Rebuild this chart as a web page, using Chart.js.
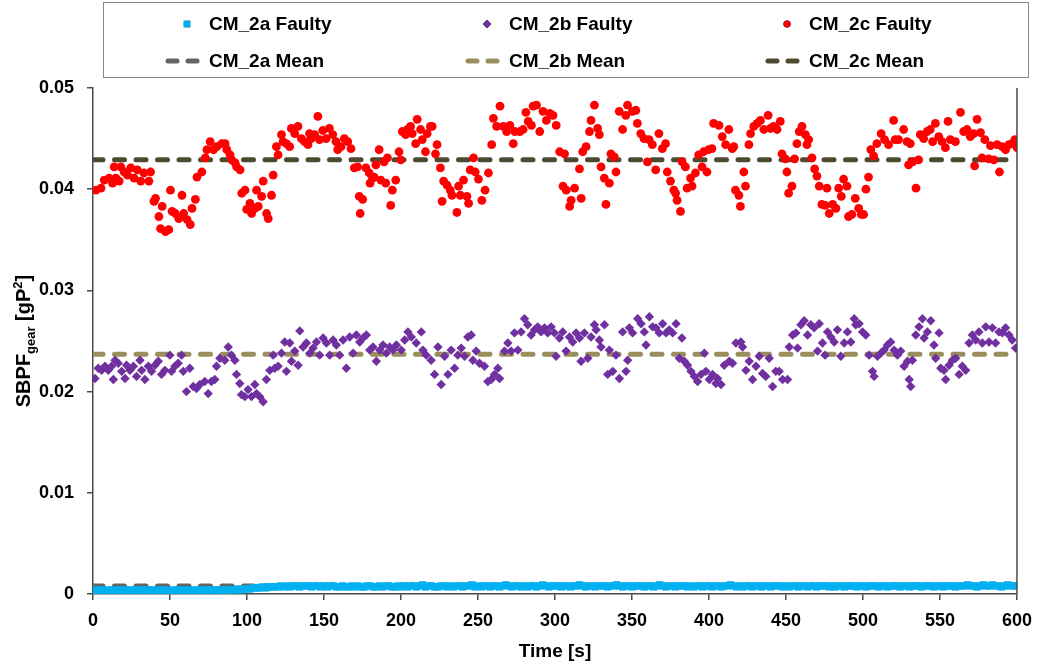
<!DOCTYPE html>
<html>
<head>
<meta charset="utf-8">
<script src="https://cdn.jsdelivr.net/npm/chart.js"></script>
<style>
  html, body { margin: 0; padding: 0; background: #fff; }
  #wrap { width: 1042px; height: 666px; }
</style>
</head>
<body>
<div id="wrap"><canvas id="sbpfChart" width="1042" height="666"></canvas></div>
<script>
// CM_2c faulty: time [s] and SBPF_gear [gP^2]
const cm2cTime = [1.9,5.2,7.3,10.5,12.7,13.8,14.8,17.0,18.1,20.2,22.4,24.5,26.7,28.8,31.0,33.1,36.3,37.4,39.6,40.6,
  42.8,43.9,44.9,47.1,49.2,50.3,51.4,53.5,55.7,57.8,58.9,61.1,63.2,64.3,66.5,67.5,70.7,72.9,74.0,76.1,
  78.3,80.4,83.7,85.8,86.9,89.0,90.1,92.3,93.3,95.5,96.6,98.7,99.8,101.9,103.0,105.2,106.2,107.3,109.5,110.5,
  112.7,113.8,115.9,117.0,119.1,120.2,122.4,123.4,125.6,127.7,128.8,131.0,133.1,135.3,137.4,139.6,140.6,141.7,143.9,146.0,
  147.1,149.2,151.4,153.5,155.7,157.8,158.9,161.1,163.2,165.4,167.5,169.7,171.8,172.9,173.5,175.1,177.2,179.4,179.9,181.5,
  182.6,183.7,185.8,186.9,189.0,190.1,191.2,193.3,194.4,196.6,198.7,199.8,200.9,203.0,204.1,206.2,207.3,209.5,210.5,212.7,
  213.8,215.9,217.0,219.1,220.2,222.4,223.4,225.6,226.7,227.7,229.9,232.0,233.1,236.3,237.4,238.5,240.6,242.8,243.9,244.9,
  247.1,248.2,250.3,252.5,254.6,256.8,258.9,260.0,262.1,264.3,266.4,268.6,270.7,272.9,273.9,277.2,279.3,281.1,282.6,284.7,
  285.8,288.0,290.1,292.2,294.4,296.6,298.7,300.8,303.0,305.2,306.2,307.3,309.5,310.5,312.7,315.9,317.0,318.0,320.2,322.4,
  323.4,325.6,327.7,328.8,329.9,332.0,333.1,335.3,336.3,338.5,339.6,341.7,343.9,346.0,347.1,350.3,352.5,353.5,355.7,357.8,
  360.0,361.1,363.2,365.4,367.5,369.7,371.8,372.9,375.0,377.2,378.3,379.3,381.5,382.6,384.7,385.8,388.0,389.0,391.2,393.3,
  395.5,396.5,398.7,399.8,401.9,403.0,406.5,408.6,410.8,412.9,415.1,416.1,417.2,419.4,420.4,422.6,423.7,425.9,427.0,429.1,
  431.3,433.4,435.6,438.4,439.9,442.0,444.2,446.3,447.4,449.6,450.6,451.7,453.9,455.6,457.1,458.6,460.4,462.6,463.6,464.7,
  466.9,468.6,470.1,471.6,473.3,475.5,476.6,478.1,480.3,482.4,484.2,485.9,487.4,489.6,490.6,492.8,495.0,497.2,498.9,500.4,
  501.9,503.6,505.1,506.9,509.0,511.8,514.0,516.6,519.9,520.9,523.1,526.4,528.6,529.6,530.7,532.2,534.4,536.1,537.2,539.4,
  541.6,543.7,545.2,547.0,549.2,551.3,553.5,555.2,556.7,560.0,563.3,565.4,567.6,569.7,571.9,572.5,574.1,576.3,577.3,579.1,
  581.6,582.8,585.0,587.1,588.6,590.4,592.6,594.8,596.9,598.6,600.1];
const cm2cVal = [0.0399,0.0401,0.0409,0.0411,0.0406,0.0422,0.0411,0.0408,0.0422,0.0417,0.0414,0.0421,0.0411,0.0419,0.0408,0.0416,0.0408,0.0417,0.0388,0.0391,
  0.0373,0.0361,0.0383,0.0358,0.0360,0.0399,0.0378,0.0376,0.0371,0.0394,0.0376,0.0370,0.0365,0.0381,0.0390,0.0412,0.0417,0.0431,0.0439,0.0447,
  0.0439,0.0442,0.0445,0.0445,0.0439,0.0434,0.0429,0.0426,0.0422,0.0419,0.0396,0.0399,0.0380,0.0386,0.0376,0.0381,0.0399,0.0383,0.0393,0.0408,
  0.0376,0.0371,0.0394,0.0414,0.0442,0.0434,0.0454,0.0447,0.0445,0.0442,0.0460,0.0455,0.0462,0.0450,0.0447,0.0444,0.0455,0.0450,0.0454,0.0472,
  0.0449,0.0458,0.0450,0.0460,0.0454,0.0447,0.0439,0.0442,0.0450,0.0447,0.0440,0.0421,0.0422,0.0393,0.0376,0.0390,0.0421,0.0416,0.0406,0.0411,
  0.0412,0.0424,0.0439,0.0409,0.0427,0.0406,0.0431,0.0384,0.0399,0.0409,0.0437,0.0429,0.0457,0.0454,0.0459,0.0462,0.0455,0.0445,0.0469,0.0459,
  0.0449,0.0437,0.0455,0.0462,0.0462,0.0435,0.0444,0.0421,0.0388,0.0408,0.0404,0.0399,0.0394,0.0377,0.0403,0.0394,0.0409,0.0393,0.0386,0.0419,
  0.0431,0.0417,0.0410,0.0389,0.0399,0.0416,0.0444,0.0470,0.0462,0.0482,0.0462,0.0457,0.0463,0.0445,0.0457,0.0457,0.0459,0.0476,0.0467,0.0463,
  0.0482,0.0483,0.0457,0.0477,0.0468,0.0475,0.0473,0.0463,0.0437,0.0403,0.0435,0.0399,0.0383,0.0389,0.0401,0.0420,0.0391,0.0437,0.0442,0.0457,
  0.0468,0.0483,0.0460,0.0454,0.0422,0.0411,0.0385,0.0406,0.0435,0.0432,0.0417,0.0477,0.0459,0.0473,0.0483,0.0477,0.0478,0.0465,0.0455,0.0450,
  0.0427,0.0449,0.0444,0.0419,0.0455,0.0440,0.0445,0.0417,0.0408,0.0399,0.0396,0.0389,0.0378,0.0427,0.0422,0.0401,0.0411,0.0403,0.0416,0.0434,
  0.0422,0.0437,0.0417,0.0439,0.0440,0.0465,0.0463,0.0452,0.0444,0.0459,0.0440,0.0442,0.0399,0.0394,0.0383,0.0417,0.0403,0.0444,0.0455,0.0462,
  0.0465,0.0468,0.0459,0.0473,0.0460,0.0462,0.0459,0.0467,0.0435,0.0430,0.0417,0.0396,0.0403,0.0430,0.0445,0.0457,0.0462,0.0454,0.0444,0.0449,
  0.0431,0.0420,0.0413,0.0403,0.0385,0.0384,0.0401,0.0376,0.0385,0.0381,0.0401,0.0393,0.0410,0.0403,0.0373,0.0375,0.0391,0.0381,0.0375,0.0375,
  0.0400,0.0412,0.0439,0.0433,0.0445,0.0455,0.0449,0.0444,0.0468,0.0449,0.0449,0.0459,0.0447,0.0424,0.0445,0.0427,0.0401,0.0429,0.0454,0.0450,
  0.0457,0.0459,0.0447,0.0465,0.0452,0.0447,0.0441,0.0467,0.0449,0.0447,0.0476,0.0457,0.0459,0.0452,0.0455,0.0423,0.0469,0.0456,0.0431,0.0449,
  0.0430,0.0443,0.0429,0.0444,0.0417,0.0442,0.0439,0.0444,0.0445,0.0449,0.0441];

// CM_2b faulty
const cm2bTime = [1.3,3.4,5.6,7.8,9.9,12.1,13.2,14.3,16.4,18.6,20.8,21.8,24.0,26.2,28.3,30.5,31.6,33.7,35.9,38.0,
  40.2,42.4,44.5,46.7,49.9,51.0,53.2,55.3,57.5,58.6,60.7,62.9,65.1,67.2,69.4,72.6,74.8,76.9,79.1,80.2,
  82.4,85.6,87.8,89.9,92.1,93.2,95.3,96.4,98.6,100.7,102.9,105.1,106.2,108.3,110.5,112.6,114.8,117.0,118.0,120.2,
  122.4,124.5,125.6,127.8,128.9,131.0,133.2,134.3,136.4,138.6,140.8,142.9,145.1,147.2,149.4,151.6,153.7,155.9,158.0,160.2,
  162.4,164.5,166.7,168.9,171.0,173.2,175.3,177.5,179.7,181.8,184.0,186.2,188.3,190.5,192.6,194.8,197.0,200.2,202.4,204.5,
  206.7,209.9,213.2,214.2,216.4,219.6,221.8,224.0,226.1,228.3,230.5,232.6,234.8,236.9,239.1,241.3,243.4,245.6,246.7,248.8,
  251.0,254.2,256.4,258.6,260.7,262.9,264.0,267.2,269.4,271.5,273.7,275.9,278.0,280.2,282.3,284.5,286.7,288.8,291.0,293.2,
  295.3,297.5,299.6,300.7,302.9,305.0,307.2,309.4,311.5,313.7,315.9,316.9,319.1,321.3,323.4,325.6,326.7,328.8,329.9,332.1,
  334.2,335.3,337.5,339.6,341.8,343.9,346.1,347.2,348.3,350.4,353.7,355.9,358.0,359.1,361.3,363.4,365.6,367.7,369.9,372.1,
  374.2,376.4,378.6,380.7,382.4,384.0,386.1,388.3,390.5,392.6,394.8,397.0,398.0,400.2,402.3,404.5,405.6,407.8,409.9,413.2,
  415.3,417.5,420.7,421.8,424.0,426.1,428.3,430.5,432.6,434.8,436.9,439.1,441.3,443.4,445.6,447.8,451.0,452.1,454.3,456.4,
  457.5,459.7,461.8,464.0,466.1,468.3,470.5,471.6,473.7,475.4,477.0,479.1,481.3,483.4,485.6,487.8,489.9,492.1,494.3,495.3,
  497.5,499.7,501.8,504.0,506.2,507.2,509.4,511.6,513.7,515.9,518.0,520.2,522.4,524.5,526.7,528.9,530.0,531.0,532.1,534.3,
  536.4,538.6,539.7,541.8,544.0,546.1,547.2,549.4,550.5,552.6,553.7,555.9,558.0,560.2,562.4,564.5,566.7,568.9,571.0,573.2,
  575.3,577.5,579.7,581.8,584.0,586.1,588.3,590.5,592.6,594.8,596.9,599.1];
const cm2bVal = [0.0213,0.0223,0.0221,0.0225,0.0221,0.0225,0.0212,0.0231,0.0228,0.0220,0.0213,0.0226,0.0221,0.0225,0.0215,0.0231,0.0221,0.0212,0.0225,0.0220,
  0.0226,0.0230,0.0217,0.0221,0.0236,0.0220,0.0225,0.0228,0.0236,0.0220,0.0200,0.0223,0.0205,0.0203,0.0207,0.0210,0.0198,0.0210,0.0212,0.0225,
  0.0233,0.0231,0.0244,0.0236,0.0231,0.0217,0.0208,0.0197,0.0195,0.0202,0.0195,0.0207,0.0198,0.0195,0.0190,0.0212,0.0221,0.0236,0.0223,0.0225,
  0.0238,0.0249,0.0220,0.0248,0.0230,0.0240,0.0226,0.0260,0.0244,0.0248,0.0238,0.0243,0.0249,0.0236,0.0253,0.0248,0.0236,0.0251,0.0246,0.0236,
  0.0251,0.0223,0.0254,0.0238,0.0256,0.0249,0.0253,0.0256,0.0241,0.0244,0.0230,0.0241,0.0246,0.0238,0.0244,0.0241,0.0246,0.0241,0.0251,0.0259,
  0.0254,0.0248,0.0259,0.0241,0.0236,0.0231,0.0217,0.0244,0.0207,0.0235,0.0217,0.0241,0.0223,0.0236,0.0243,0.0235,0.0254,0.0256,0.0231,0.0240,
  0.0228,0.0225,0.0210,0.0212,0.0217,0.0223,0.0213,0.0240,0.0248,0.0240,0.0258,0.0241,0.0259,0.0272,0.0266,0.0256,0.0261,0.0264,0.0259,0.0263,
  0.0258,0.0264,0.0258,0.0235,0.0253,0.0259,0.0240,0.0254,0.0249,0.0258,0.0253,0.0230,0.0258,0.0233,0.0254,0.0266,0.0261,0.0251,0.0244,0.0266,
  0.0217,0.0241,0.0220,0.0236,0.0213,0.0259,0.0220,0.0231,0.0263,0.0258,0.0272,0.0267,0.0259,0.0246,0.0274,0.0264,0.0263,0.0258,0.0267,0.0258,
  0.0261,0.0258,0.0267,0.0233,0.0253,0.0230,0.0226,0.0220,0.0215,0.0210,0.0217,0.0238,0.0220,0.0212,0.0217,0.0208,0.0213,0.0207,0.0226,0.0230,
  0.0228,0.0248,0.0249,0.0244,0.0221,0.0230,0.0212,0.0225,0.0235,0.0218,0.0215,0.0233,0.0205,0.0220,0.0220,0.0212,0.0212,0.0244,0.0256,0.0258,
  0.0243,0.0266,0.0270,0.0256,0.0266,0.0263,0.0240,0.0267,0.0248,0.0236,0.0259,0.0254,0.0249,0.0261,0.0235,0.0248,0.0259,0.0249,0.0272,0.0266,
  0.0267,0.0259,0.0256,0.0236,0.0220,0.0215,0.0235,0.0238,0.0241,0.0246,0.0249,0.0241,0.0236,0.0240,0.0225,0.0230,0.0212,0.0205,0.0231,0.0256,
  0.0264,0.0272,0.0253,0.0259,0.0270,0.0246,0.0233,0.0258,0.0223,0.0221,0.0212,0.0226,0.0231,0.0233,0.0217,0.0225,0.0221,0.0248,0.0256,0.0251,
  0.0259,0.0248,0.0264,0.0249,0.0263,0.0248,0.0259,0.0258,0.0263,0.0256,0.0251,0.0243];

// CM_2a faulty, one sample every 2 s from 0 to 600 s
const cm2aStep = 2;
const cm2aVal = [0.0004,0.0003,0.0004,0.0004,0.0003,0.0004,0.0004,0.0003,0.0004,0.0004,
  0.0003,0.0004,0.0004,0.0003,0.0004,0.0004,0.0004,0.0003,0.0004,0.0004,
  0.0004,0.0003,0.0004,0.0004,0.0003,0.0003,0.0004,0.0004,0.0004,0.0003,
  0.0004,0.0004,0.0003,0.0004,0.0004,0.0004,0.0003,0.0004,0.0004,0.0004,
  0.0004,0.0004,0.0003,0.0004,0.0004,0.0004,0.0004,0.0005,0.0004,0.0005,
  0.0005,0.0005,0.0006,0.0006,0.0006,0.0007,0.0006,0.0007,0.0007,0.0007,
  0.0007,0.0008,0.0007,0.0008,0.0007,0.0008,0.0008,0.0007,0.0008,0.0008,
  0.0008,0.0007,0.0008,0.0008,0.0007,0.0008,0.0007,0.0008,0.0008,0.0007,
  0.0007,0.0008,0.0007,0.0007,0.0008,0.0007,0.0008,0.0007,0.0007,0.0008,
  0.0008,0.0007,0.0007,0.0008,0.0007,0.0008,0.0008,0.0007,0.0007,0.0008,
  0.0007,0.0008,0.0007,0.0008,0.0008,0.0007,0.0008,0.0009,0.0007,0.0008,
  0.0008,0.0007,0.0007,0.0008,0.0008,0.0007,0.0008,0.0007,0.0008,0.0008,
  0.0007,0.0008,0.0008,0.0009,0.0007,0.0008,0.0007,0.0008,0.0008,0.0007,
  0.0008,0.0008,0.0007,0.0008,0.0009,0.0008,0.0007,0.0008,0.0008,0.0007,
  0.0008,0.0007,0.0008,0.0008,0.0007,0.0008,0.0009,0.0008,0.0007,0.0008,
  0.0008,0.0008,0.0007,0.0008,0.0008,0.0007,0.0008,0.0008,0.0009,0.0008,
  0.0007,0.0008,0.0008,0.0007,0.0008,0.0008,0.0008,0.0007,0.0008,0.0008,
  0.0009,0.0008,0.0007,0.0008,0.0008,0.0007,0.0008,0.0008,0.0008,0.0007,
  0.0008,0.0008,0.0007,0.0008,0.0009,0.0008,0.0007,0.0008,0.0008,0.0007,
  0.0008,0.0008,0.0008,0.0007,0.0008,0.0007,0.0008,0.0008,0.0007,0.0008,
  0.0008,0.0007,0.0008,0.0008,0.0007,0.0008,0.0008,0.0009,0.0008,0.0007,
  0.0008,0.0007,0.0008,0.0008,0.0007,0.0008,0.0008,0.0007,0.0008,0.0008,
  0.0007,0.0008,0.0008,0.0008,0.0007,0.0008,0.0007,0.0008,0.0008,0.0007,
  0.0008,0.0008,0.0007,0.0008,0.0008,0.0007,0.0008,0.0008,0.0008,0.0007,
  0.0008,0.0007,0.0008,0.0008,0.0007,0.0008,0.0008,0.0008,0.0007,0.0008,
  0.0008,0.0007,0.0008,0.0008,0.0008,0.0007,0.0008,0.0008,0.0007,0.0008,
  0.0008,0.0008,0.0007,0.0008,0.0008,0.0007,0.0008,0.0008,0.0008,0.0007,
  0.0008,0.0008,0.0008,0.0007,0.0008,0.0008,0.0007,0.0008,0.0008,0.0008,
  0.0007,0.0008,0.0008,0.0008,0.0009,0.0008,0.0008,0.0007,0.0008,0.0009,
  0.0008,0.0008,0.0009,0.0008,0.0008,0.0007,0.0008,0.0009,0.0008,0.0008,
  0.0008];

// mean levels (dashed lines)
const cm2aMean = 0.0008;
const cm2bMean = 0.0237;
const cm2cMean = 0.0429;

const labels = ['CM_2a Faulty', 'CM_2b Faulty', 'CM_2c Faulty', 'CM_2a Mean', 'CM_2b Mean', 'CM_2c Mean'];
const timeRange = [0, 600];

const FONT = "'Liberation Sans', Arial, sans-serif";
const AXIS_COLOR = '#4a4a4a';

function toPoints(times, vals) {
    return times.map((t, i) => ({ x: t, y: vals[i] }));
}

function meanLine(level) {
    return timeRange.map(t => ({ x: t, y: level }));
}

const meanStyle = {
    showLine: true,
    pointRadius: 0,
    borderWidth: 5,
    borderDash: [10, 11.5],
    borderCapStyle: 'round',
    order: 2
};

// legend box drawn by hand, 3 columns x 2 rows like the Excel original
const boxLegend = {
    id: 'boxLegend',
    afterDraw(chart) {
        const ctx = chart.ctx;
        const cols = [187, 487, 787];
        const rows = [24, 61];
        ctx.save();
        ctx.strokeStyle = '#8a8a8a';
        ctx.lineWidth = 1;
        ctx.strokeRect(103.5, 2.5, 925, 75);

        chart.data.datasets.forEach((ds, i) => {
            const cx = cols[i % 3];
            const cy = rows[Math.floor(i / 3)];
            if (i < 3) {
                Chart.helpers.drawPoint(ctx, {
                    pointStyle: ds.pointStyle,
                    radius: ds.legendRadius,
                    borderWidth: 0
                }, cx, cy);
                ctx.fillStyle = ds.backgroundColor;
                ctx.fill();
            } else {
                ctx.strokeStyle = ds.borderColor;
                ctx.lineWidth = 5;
                ctx.lineCap = 'round';
                ctx.setLineDash([]);
                ctx.beginPath();
                ctx.moveTo(cx - 19, cy); ctx.lineTo(cx - 10, cy);
                ctx.moveTo(cx + 1, cy); ctx.lineTo(cx + 10, cy);
                ctx.stroke();
            }
            ctx.fillStyle = '#000';
            ctx.font = 'bold 19px ' + FONT;
            ctx.textBaseline = 'middle';
            ctx.textAlign = 'left';
            ctx.fillText(ds.label, cx + 22, cy + 1);
        });
        ctx.restore();
    }
};

// axis titles (y title needs sub- and superscript) and the right frame line
const axisExtras = {
    id: 'axisExtras',
    afterDraw(chart) {
        const ctx = chart.ctx;
        const area = chart.chartArea;
        ctx.save();
        ctx.strokeStyle = AXIS_COLOR;
        ctx.lineWidth = 1.5;
        ctx.beginPath();
        ctx.moveTo(area.right, area.top);
        ctx.lineTo(area.right, area.bottom);
        ctx.stroke();

        ctx.fillStyle = '#000';
        ctx.font = 'bold 19px ' + FONT;
        ctx.textAlign = 'center';
        ctx.textBaseline = 'middle';
        ctx.fillText('Time [s]', (area.left + area.right) / 2, 652);

        const big = 'bold 20px ' + FONT;
        const small = 'bold 13px ' + FONT;
        const parts = [['SBPF', big, 0], ['gear', small, 5], [' [gP', big, 0], ['2', small, -8], [']', big, 0]];
        ctx.translate(23, (area.top + area.bottom) / 2);
        ctx.rotate(-Math.PI / 2);
        ctx.textAlign = 'left';
        ctx.textBaseline = 'alphabetic';
        let total = 0;
        parts.forEach(p => { ctx.font = p[1]; total += ctx.measureText(p[0]).width; });
        let x = -total / 2;
        parts.forEach(p => {
            ctx.font = p[1];
            ctx.fillText(p[0], x, 7 + p[2]);
            x += ctx.measureText(p[0]).width;
        });
        ctx.restore();
    }
};

const ctx = document.getElementById('sbpfChart').getContext('2d');
const sbpfChart = new Chart(ctx, {
    type: 'scatter',
    data: {
        datasets: [
            { label: labels[0], data: cm2aVal.map((v, i) => ({ x: i * cm2aStep, y: v })),
              pointStyle: 'rect', pointRadius: 5.2, legendRadius: 4.6,
              backgroundColor: '#00B0F0', borderColor: '#00B0F0', borderWidth: 0, order: 1 },
            { label: labels[1], data: toPoints(cm2bTime, cm2bVal),
              pointStyle: 'rectRot', pointRadius: 4.7, legendRadius: 4.2,
              backgroundColor: '#7030A0', borderColor: '#7030A0', borderWidth: 0, order: 1 },
            { label: labels[2], data: toPoints(cm2cTime, cm2cVal),
              pointStyle: 'circle', pointRadius: 4.4, legendRadius: 3.6,
              backgroundColor: '#FF0000', borderColor: '#FF0000', borderWidth: 0, order: 1 },
            Object.assign({ label: labels[3], data: meanLine(cm2aMean), borderColor: '#646464' }, meanStyle),
            Object.assign({ label: labels[4], data: meanLine(cm2bMean), borderColor: '#9A8F5C' }, meanStyle),
            Object.assign({ label: labels[5], data: meanLine(cm2cMean), borderColor: '#4E4A30' }, meanStyle)
        ]
    },
    options: {
        responsive: false,
        animation: false,
        events: [],
        layout: { padding: { top: 88, right: 24, left: 0, bottom: 0 } },
        plugins: {
            legend: { display: false },
            tooltip: { enabled: false }
        },
        scales: {
            x: {
                type: 'linear',
                min: timeRange[0],
                max: timeRange[1],
                afterFit: s => { s.height = 72; },
                ticks: {
                    stepSize: 50,
                    padding: 10,
                    color: '#000',
                    font: { family: FONT, size: 18, weight: 'bold' }
                },
                grid: { drawOnChartArea: false, drawTicks: true, tickLength: 6, color: AXIS_COLOR, lineWidth: 1.5 },
                border: { display: true, color: AXIS_COLOR, width: 1.5 }
            },
            y: {
                type: 'linear',
                min: 0,
                max: 0.05,
                afterFit: s => { s.width = 93; },
                ticks: {
                    stepSize: 0.01,
                    padding: 13,
                    color: '#000',
                    font: { family: FONT, size: 18, weight: 'bold' },
                    callback: v => (v === 0 ? '0' : v.toFixed(2))
                },
                grid: { drawOnChartArea: false, drawTicks: true, tickLength: 6, color: AXIS_COLOR, lineWidth: 1.5 },
                border: { display: true, color: AXIS_COLOR, width: 1.5 }
            }
        }
    },
    plugins: [boxLegend, axisExtras]
});
</script>
</body>
</html>
